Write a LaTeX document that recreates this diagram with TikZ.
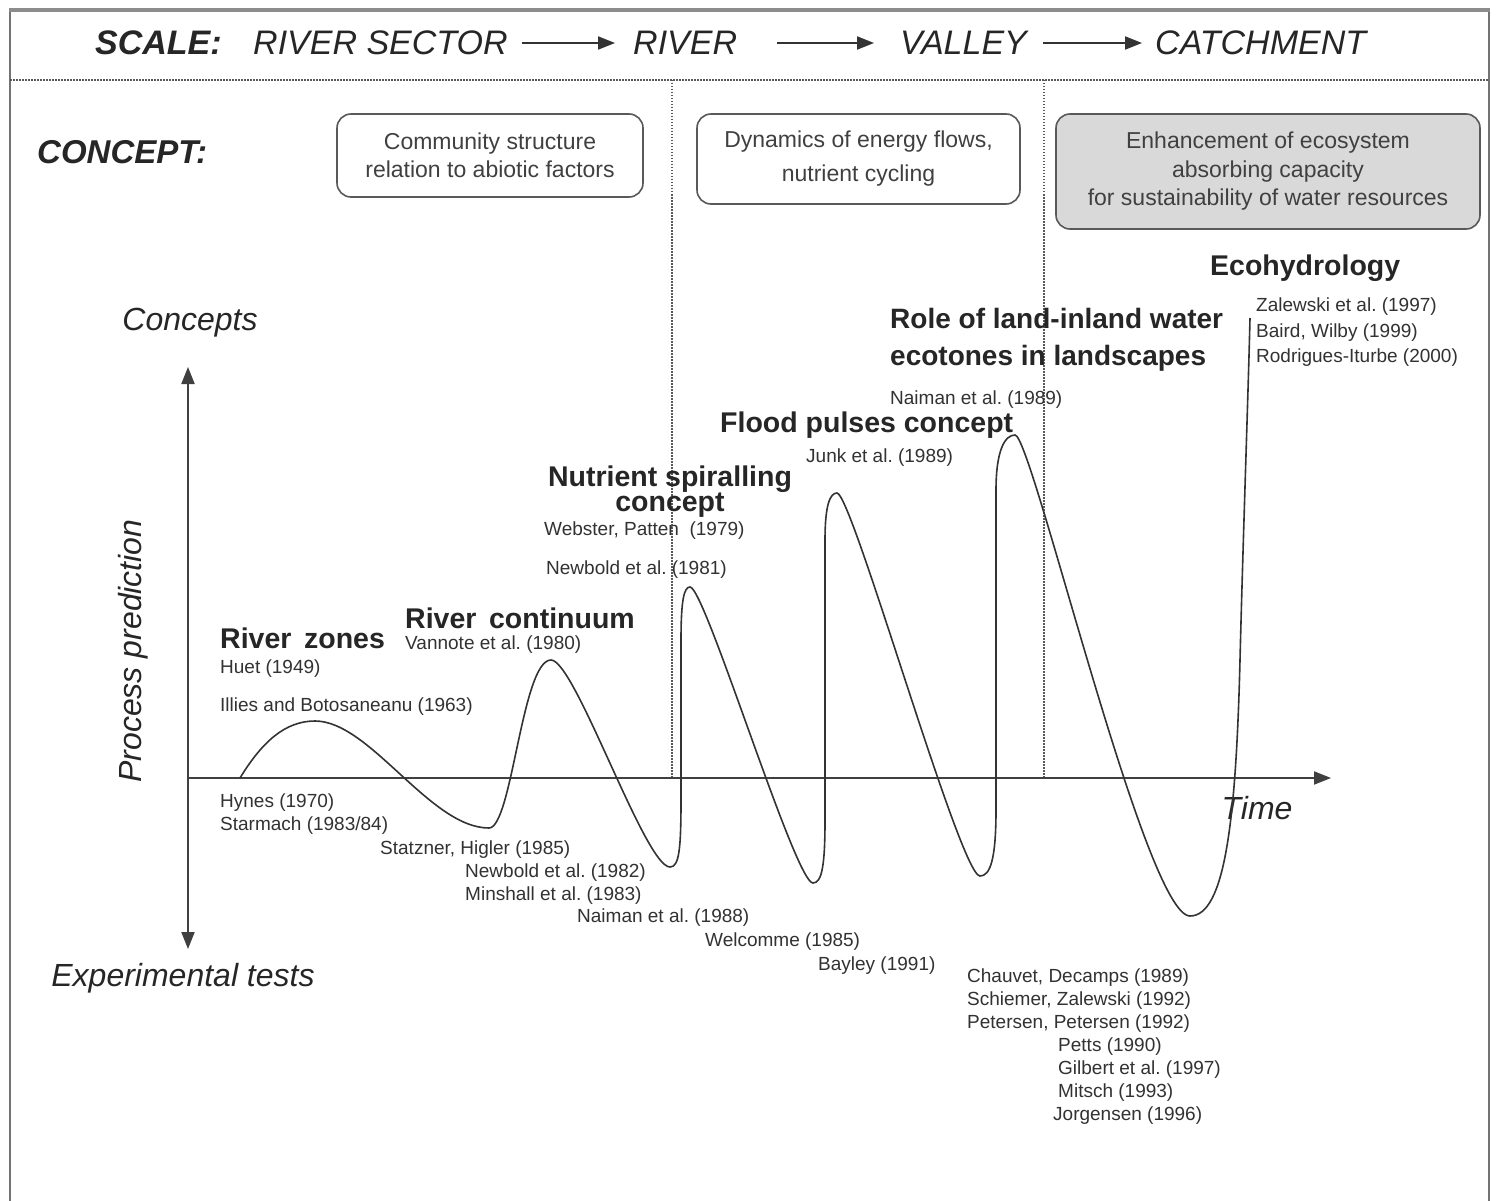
\documentclass[tikz,border=0pt]{standalone}
\usepackage{fontspec}
\setmainfont{Liberation Sans}
\usetikzlibrary{arrows.meta}
\definecolor{boxgray}{RGB}{217,217,217}
\definecolor{txtgray}{RGB}{50,50,50}
\frenchspacing
\begin{document}
\begin{tikzpicture}[x=1pt,y=-1pt,
  small/.style={font=\fontsize{19}{22}\selectfont, text=txtgray, inner sep=0pt, anchor=west},
  bigb/.style={font=\fontsize{28.5}{30}\selectfont\bfseries, inner sep=0pt, anchor=west, text=black!85},
  scaletxt/.style={font=\fontsize{34}{36}\selectfont\itshape, inner sep=0pt, text=black!85},
  axislbl/.style={font=\fontsize{32}{34}\selectfont\itshape, inner sep=0pt, text=black!85},
  cbox/.style={draw=black!65, line width=1.6pt, rounded corners=14pt, align=center, inner sep=0pt,
     text=black!75, font=\fontsize{23}{28}\selectfont},
  dotline/.style={draw=black!65, line width=1.4pt, dash pattern=on 1.5pt off 1.5pt},
  axisline/.style={draw=black!75, line width=2pt},
  tri/.style={-{Triangle[length=17pt,width=13pt]}},
  curve/.style={draw=black!80, line width=1.6pt}
]
\fill[white] (0,0) rectangle (1496,1201);
\useasboundingbox (0,0) rectangle (1496,1201);
% frame
\draw[black!55, line width=1.6pt] (10,1201) -- (10,10);
\draw[black!55, line width=1.6pt] (1489,10) -- (1489,1201);
\draw[black!45, line width=3.5pt] (9,10) -- (1490,10);
\draw[dotline] (10,80) -- (1489,80);
% scale row
\node[scaletxt, font=\fontsize{34}{36}\selectfont\bfseries\itshape, anchor=west] (scale) at (95,43) {SCALE:};
\node[scaletxt, anchor=west] (rs) at (253,43) {RIVER SECTOR};
\node[scaletxt, anchor=west] (rv) at (633,43) {RIVER};
\node[scaletxt, anchor=west] (va) at (900,43) {VALLEY};
\node[scaletxt, anchor=west] (ca) at (1155,43) {CATCHMENT};
\draw[black!80, line width=2pt, tri] ([xshift=14pt]rs.east) -- ([xshift=-18pt]rv.west);
\draw[black!80, line width=2pt, tri] ([xshift=40pt]rv.east) -- ([xshift=-26pt]va.west);
\draw[black!80, line width=2pt, tri] ([xshift=16pt]va.east) -- ([xshift=-13pt]ca.west);
% concept row
\node[scaletxt, font=\fontsize{33}{36}\selectfont\bfseries\itshape, anchor=west] (concept) at (37,152) {CONCEPT:};
\node[cbox, minimum width=306pt, minimum height=83pt] (b1) at (490,155.5) {Community structure\\relation to abiotic factors};
\node[cbox, minimum width=323pt, minimum height=90pt, font=\fontsize{23}{34}\selectfont] (b2) at (858.5,159) {Dynamics of energy flows,\\nutrient cycling};
\node[cbox, fill=boxgray, minimum width=424pt, minimum height=115pt, font=\fontsize{23}{28.5}\selectfont] (b3) at (1268,171.5) {Enhancement of ecosystem\\absorbing capacity\\for sustainability of water resources};
% vertical dotted separators
\draw[dotline] (672,80) -- (672,778);
\draw[dotline] (1044,80) -- (1044,778);
% axes
\coordinate (o) at (188,778);
\coordinate (top) at (188,367);
\coordinate (bot) at (188,949);
\coordinate (xend) at (1331,778);
\draw[axisline, {Triangle[length=17pt,width=13pt]}-{Triangle[length=17pt,width=13pt]}] (top) -- (bot);
\draw[axisline, tri] (o) -- (xend);
\node[axislbl] (lconc) at (190,323) {Concepts};
\node[axislbl, rotate=90] (lproc) at (133,651) {Process prediction};
\node[axislbl] (lexp) at (183,978) {Experimental tests};
\node[axislbl] (ltime) at (1257,808) {Time};
% curve
\draw[curve] (240,778) .. controls (262,742) and (285,721) .. (315,721)
  .. controls (370,721) and (430,828) .. (489,828)
  .. controls (512,828) and (522,660) .. (551,660)
  .. controls (575,660) and (645,867) .. (670,867)
  .. controls (679,867) and (681,850) .. (681,800)
  -- (681,640)
  .. controls (681,600) and (684,587) .. (690,587)
  .. controls (705,587) and (795,883) .. (813,883)
  .. controls (822,883) and (825,865) .. (825,820)
  -- (825,540)
  .. controls (825,505) and (830,493) .. (837,493)
  .. controls (852,493) and (960,876) .. (980,876)
  .. controls (990,876) and (996,860) .. (996,810)
  -- (996,490)
  .. controls (996,450) and (1005,435) .. (1015,435)
  .. controls (1032,435) and (1145,916) .. (1190,916)
  .. controls (1225,916) and (1236,820) .. (1240,660)
  .. controls (1243,540) and (1248,400) .. (1250,318);
% bold labels
\node[bigb] (rz) at (220,638) {River\,\ zones};
\node[bigb] (rc) at (405,618) {River\,\ continuum};
\node[bigb, anchor=center, align=center, font=\fontsize{28.5}{23}\selectfont\bfseries] (ns) at (670,491.5) {Nutrient spiralling\\concept};
\node[bigb] (fp) at (720,425) {Flood pulses concept};
\node[bigb, align=left, font=\fontsize{28}{37}\selectfont\bfseries] (rl) at (890,339.5) {Role of land-inland water\\ecotones in landscapes};
\node[bigb] (eh) at (1210,268) {Ecohydrology};
% small labels
\node[small] (s1) at (220,669) {Huet (1949)};
\node[small] (s2) at (220,707) {Illies and Botosaneanu (1963)};
\node[small] (s3) at (220,803) {Hynes (1970)};
\node[small] (s4) at (220,826) {Starmach (1983/84)};
\node[small] (s5) at (380,850) {Statzner, Higler (1985)};
\node[small] (s6) at (465,873) {Newbold et al. (1982)};
\node[small] (s7) at (465,896) {Minshall et al. (1983)};
\node[small] (s8) at (577,918) {Naiman et al. (1988)};
\node[small] (s9) at (705,942) {Welcomme (1985)};
\node[small] (s10) at (818,966) {Bayley (1991)};
\node[small] (s11) at (967,978) {Chauvet, Decamps (1989)};
\node[small] (s12) at (967,1001) {Schiemer, Zalewski (1992)};
\node[small] (s13) at (967,1024) {Petersen, Petersen (1992)};
\node[small] (s14) at (1058,1047) {Petts (1990)};
\node[small] (s15) at (1058,1070) {Gilbert et al. (1997)};
\node[small] (s16) at (1058,1093) {Mitsch (1993)};
\node[small] (s17) at (1053,1116) {Jorgensen (1996)};
\node[small] (s18) at (405,645) {Vannote et al. (1980)};
\node[small] (s19) at (544,531) {Webster, Patten\ \ (1979)};
\node[small] (s20) at (546,570) {Newbold et al. (1981)};
\node[small] (s21) at (806,458) {Junk et al. (1989)};
\node[small] (s22) at (890,400) {Naiman et al. (1989)};
\node[small] (s23) at (1256,307) {Zalewski et al. (1997)};
\node[small] (s24) at (1256,333) {Baird, Wilby (1999)};
\node[small] (s25) at (1256,358) {Rodrigues-Iturbe (2000)};
\end{tikzpicture}
\end{document}
